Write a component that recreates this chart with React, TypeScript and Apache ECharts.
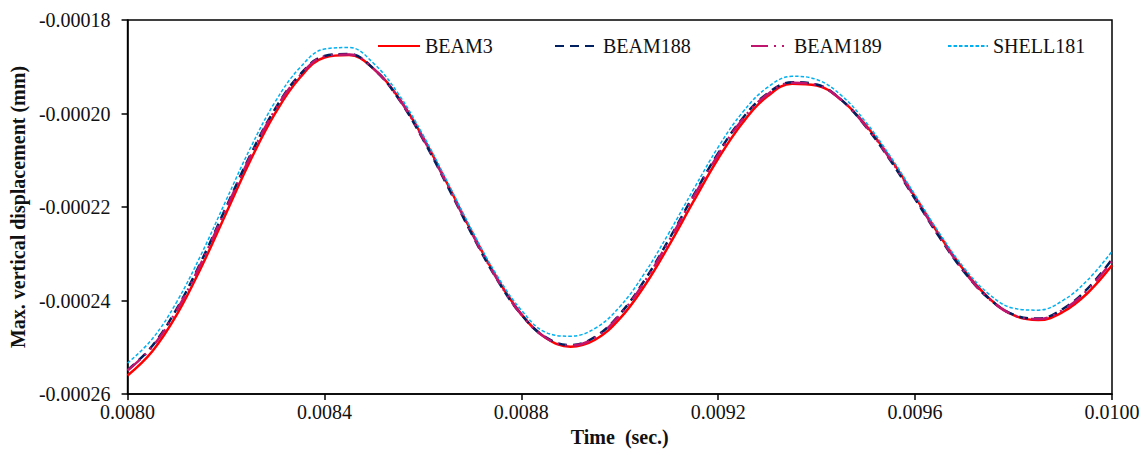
import React, { useEffect, useRef } from "react";
import * as echarts from "echarts";

const time = [
  0.008, 0.00805, 0.0081, 0.00815, 0.0082, 0.00825, 0.0083, 0.00835, 0.0084, 0.00845,
  0.0085, 0.00855, 0.0086, 0.00865, 0.0087, 0.00875, 0.0088, 0.00885, 0.0089, 0.00895,
  0.009, 0.00905, 0.0091, 0.00915, 0.0092, 0.00925, 0.0093, 0.00935, 0.0094, 0.00945,
  0.0095, 0.00955, 0.0096, 0.00965, 0.0097, 0.00975, 0.0098, 0.00985, 0.0099, 0.00995,
  0.01,
];

const beam3 = [
  -256.05e-6, -250.91e-6, -243.04e-6, -232.82e-6, -221.37e-6, -209.95e-6, -199.93e-6, -192.35e-6, -188.02e-6, -187.49e-6,
  -190.46e-6, -196.53e-6, -205.07e-6, -215.09e-6, -225.48e-6, -235.08e-6, -242.91e-6, -248.01e-6, -249.87e-6, -248.39e-6,
  -243.89e-6, -236.9e-6, -228.19e-6, -218.76e-6, -209.63e-6, -201.91e-6, -196.34e-6, -193.64e-6, -194.02e-6, -197.09e-6,
  -202.51e-6, -209.65e-6, -217.85e-6, -226.12e-6, -233.61e-6, -239.48e-6, -243.15e-6, -244.19e-6, -242.46e-6, -238.45e-6,
  -232.48e-6,
];

const beam188 = [
  -254.88e-6, -249.74e-6, -241.76e-6, -231.54e-6, -220.09e-6, -208.78e-6, -198.97e-6, -191.71e-6, -187.7e-6, -187.28e-6,
  -190.46e-6, -196.74e-6, -205.5e-6, -215.52e-6, -225.91e-6, -235.4e-6, -243.02e-6, -247.9e-6, -249.55e-6, -247.75e-6,
  -242.93e-6, -235.73e-6, -226.91e-6, -217.48e-6, -208.46e-6, -200.95e-6, -195.7e-6, -193.32e-6, -193.81e-6, -197.09e-6,
  -202.83e-6, -210.08e-6, -218.28e-6, -226.55e-6, -233.93e-6, -239.59e-6, -243.04e-6, -243.87e-6, -241.82e-6, -237.49e-6,
  -231.2e-6,
];

const beam189 = [
  -254.98e-6, -249.95e-6, -242.08e-6, -231.86e-6, -220.41e-6, -209.1e-6, -199.18e-6, -191.92e-6, -187.81e-6, -187.38e-6,
  -190.46e-6, -196.64e-6, -205.28e-6, -215.3e-6, -225.69e-6, -235.29e-6, -243.02e-6, -248.01e-6, -249.66e-6, -247.96e-6,
  -243.14e-6, -236.05e-6, -227.23e-6, -217.8e-6, -208.78e-6, -201.16e-6, -195.91e-6, -193.43e-6, -193.91e-6, -197.09e-6,
  -202.72e-6, -209.86e-6, -218.06e-6, -226.33e-6, -233.82e-6, -239.59e-6, -243.15e-6, -243.98e-6, -242.03e-6, -237.81e-6,
  -231.63e-6,
];

const shell181 = [
  -253.38e-6, -248.24e-6, -240.27e-6, -230.05e-6, -218.6e-6, -207.28e-6, -197.48e-6, -190.22e-6, -186.21e-6, -185.89e-6,
  -189.29e-6, -195.78e-6, -204.54e-6, -214.66e-6, -225.05e-6, -234.55e-6, -242.06e-6, -246.84e-6, -247.63e-6, -245.94e-6,
  -241.33e-6, -234.23e-6, -225.52e-6, -216.2e-6, -207.18e-6, -199.67e-6, -194.42e-6, -192.04e-6, -192.74e-6, -196.13e-6,
  -201.87e-6, -209.22e-6, -217.42e-6, -225.69e-6, -233.08e-6, -238.63e-6, -241.66e-6, -242.06e-6, -240.01e-6, -235.68e-6,
  -229.49e-6,
];

const seriesNames = ["BEAM3", "BEAM188", "BEAM189", "SHELL181"];
const yTickMin = -0.00026;
const yTickMax = -0.00018;
const xTickMin = 0.008;
const xTickMax = 0.01;

const FONT = "'Liberation Serif', 'Times New Roman', serif";
const TEXT = "#111";

function pairs(ys: number[]) {
  return time.map((t, i) => [t, ys[i]]);
}

export default function App() {
  const ref = useRef<HTMLDivElement>(null);
  useEffect(() => {
    if (!ref.current) return;
    const chart = echarts.init(ref.current, undefined, { renderer: "svg" });
    const legendLefts = [372, 549, 745, 942];
    const legendWidths = [42, 43, 38, 40];
    chart.setOption({
      animation: false,
      backgroundColor: "#fff",
      grid: {
        left: 125,
        right: 33,
        top: 20,
        bottom: 57,
        show: true,
        borderColor: "#000",
        borderWidth: 1.5,
        backgroundColor: "transparent",
      },
      legend: seriesNames.map((n, i) => ({
        data: [n],
        left: legendLefts[i],
        top: 31,
        itemWidth: legendWidths[i],
        itemHeight: 14,
        itemGap: 6,
        itemStyle: { opacity: 0, borderWidth: 0 },
        textStyle: { fontFamily: FONT, fontSize: 20, color: TEXT },
      })),
      xAxis: {
        type: "value",
        min: xTickMin,
        max: xTickMax,
        interval: 0.0004,
        name: "Time  (sec.)",
        nameLocation: "middle",
        nameGap: 33,
        nameTextStyle: { fontFamily: FONT, fontSize: 20, fontWeight: "bold", color: TEXT },
        axisLine: { show: true, lineStyle: { color: "#000", width: 1.5 } },
        axisTick: { show: true, inside: false, length: 6, lineStyle: { color: "#000", width: 1.5 } },
        axisLabel: {
          fontFamily: FONT,
          fontSize: 20,
          color: TEXT,
          margin: 8,
          formatter: (v: number) => v.toFixed(4),
        },
        splitLine: { show: false },
      },
      yAxis: {
        type: "value",
        min: yTickMin,
        max: yTickMax,
        interval: 0.00002,
        name: "Max. vertical displacement (mm)",
        nameLocation: "middle",
        nameGap: 93,
        nameTextStyle: { fontFamily: FONT, fontSize: 20, fontWeight: "bold", color: TEXT },
        axisLine: { show: true, lineStyle: { color: "#000", width: 1.5 } },
        axisTick: { show: true, inside: false, length: 6, lineStyle: { color: "#000", width: 1.5 } },
        axisLabel: {
          fontFamily: FONT,
          fontSize: 20,
          color: TEXT,
          margin: 17,
          formatter: (v: number) => v.toFixed(5),
        },
        splitLine: { show: false },
      },
      series: [
        {
          name: "BEAM3",
          type: "line",
          data: pairs(beam3),
          smooth: 0.4,
          symbol: "none",
          lineStyle: { color: "#FF0000", width: 2.5, type: "solid" },
          itemStyle: { color: "#FF0000" },
        },
        {
          name: "BEAM188",
          type: "line",
          data: pairs(beam188),
          smooth: 0.4,
          symbol: "none",
          lineStyle: { color: "#002060", width: 2.5, type: [9, 6] },
          itemStyle: { color: "#002060" },
        },
        {
          name: "BEAM189",
          type: "line",
          data: pairs(beam189),
          smooth: 0.4,
          symbol: "none",
          lineStyle: { color: "#C0156E", width: 2.5, type: [17, 6, 2, 6, 2, 6] },
          itemStyle: { color: "#C0156E" },
        },
        {
          name: "SHELL181",
          type: "line",
          data: pairs(shell181),
          smooth: 0.4,
          symbol: "none",
          lineStyle: { color: "#00B0F0", width: 1.5, type: [3.5, 2] },
          itemStyle: { color: "#00B0F0" },
        },
      ],
    });
    return () => chart.dispose();
  }, []);
  return (
    <div
      ref={ref}
      style={{ position: "fixed", left: 0, top: 0, width: 1145, height: 452 }}
    />
  );
}
